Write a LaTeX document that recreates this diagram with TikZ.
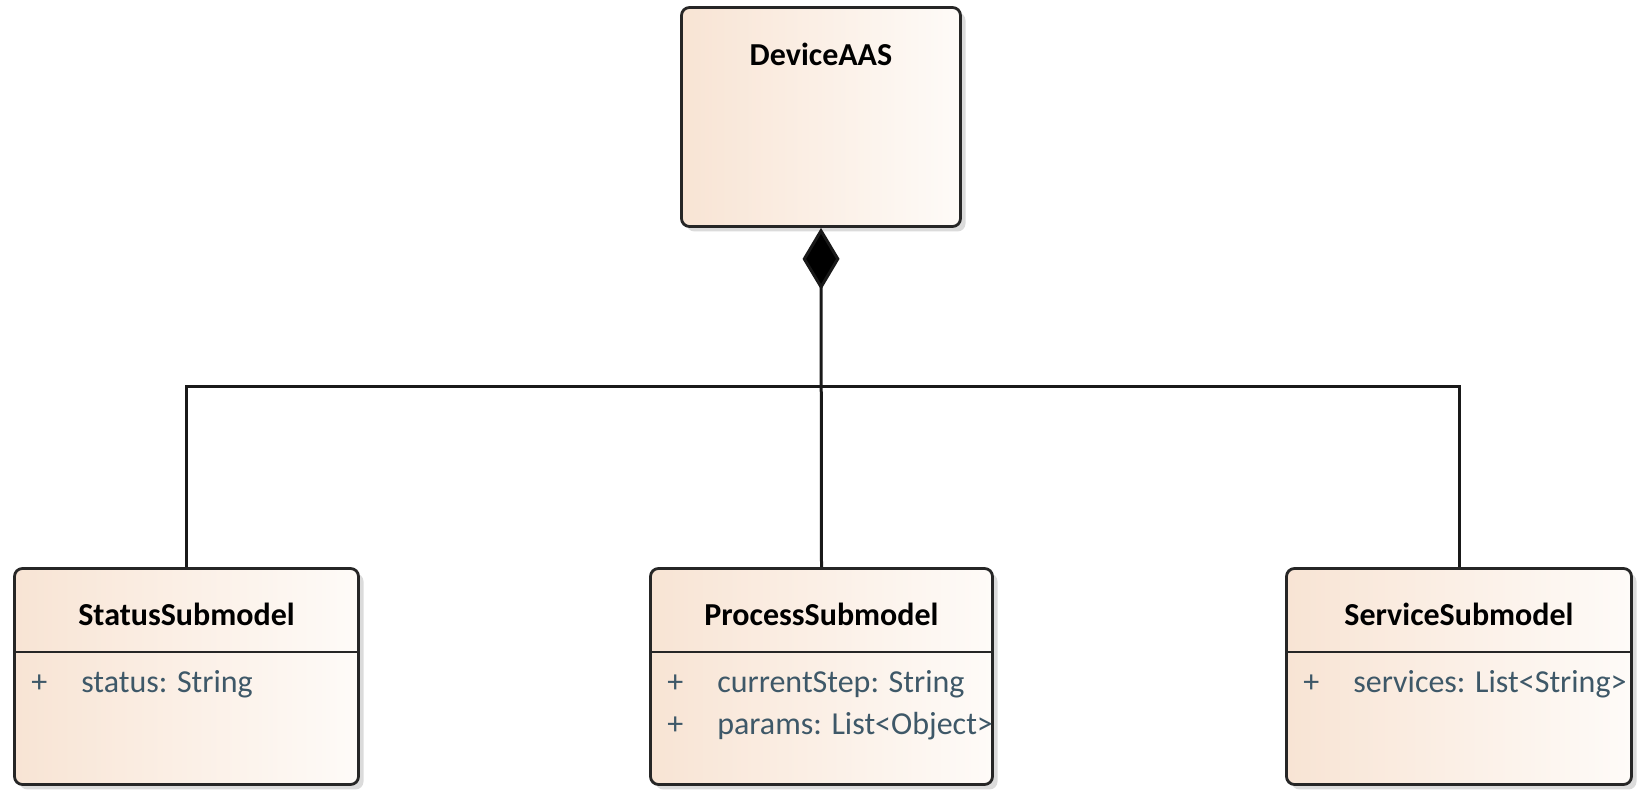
\documentclass[tikz,border=0pt]{standalone}
\usepackage{fontspec}
\setmainfont{Carlito}
\usetikzlibrary{arrows.meta,shadows,positioning}
\definecolor{boxleft}{RGB}{248,228,212}
\definecolor{boxright}{RGB}{254,251,248}
\definecolor{attrtext}{RGB}{62,88,104}
\tikzset{class_box/.style={draw=black!85, line width=2.8pt, rounded corners=8pt,
		left color=boxleft, right color=boxright,
		drop shadow={shadow xshift=5pt, shadow yshift=-5pt, fill=black!14, opacity=1},
		minimum height=216pt, inner sep=0pt},
	class_title/.style={font=\bfseries\fontsize{32}{38}\selectfont, text=black},
	attr/.style={font=\fontsize{32}{38}\selectfont, text=attrtext, anchor=west, inner sep=0pt},
	link/.style={draw=black!90, line width=3pt}
}

\begin{document}
\begin{tikzpicture}[x=1pt, y=1pt]
			\useasboundingbox (0,0) rectangle (1642,790);
			% class boxes
			\node[class_box, minimum width=279pt, minimum height=219pt] (device) at (821,673) {};
			\node[class_box, minimum width=344pt] (status) at (186.5,113.5) {};
			\node[class_box, minimum width=342pt] (process) at (821.5,113.5) {};
			\node[class_box, minimum width=345pt] (service) at (1459,113.5) {};
			
			% titles
			\node[class_title] (device_t) at ([yshift=-48pt]device.north) {DeviceAAS};
			\node[class_title] (status_t) at ([yshift=-47pt]status.north) {StatusSubmodel};
			\node[class_title] (process_t) at ([yshift=-47pt]process.north) {ProcessSubmodel};
			\node[class_title] (service_t) at ([yshift=-47pt]service.north) {ServiceSubmodel};
			
			% compartment lines
			\draw[link, draw=black!85, line width=2.8pt] ([yshift=-85pt]status.north west) -- ([yshift=-85pt]status.north east);
			\draw[link, draw=black!85, line width=2.8pt] ([yshift=-85pt]process.north west) -- ([yshift=-85pt]process.north east);
			\draw[link, draw=black!85, line width=2.8pt] ([yshift=-85pt]service.north west) -- ([yshift=-85pt]service.north east);
			
			% attributes
			\node[attr] (status_p) at ([shift={(18pt,-117pt)}]status.north west) {+};
			\node[attr] (status_a) at ([shift={(68pt,-117pt)}]status.north west) {status: String};
			\node[attr] (process_p1) at ([shift={(18pt,-117pt)}]process.north west) {+};
			\node[attr] (process_a1) at ([shift={(68pt,-117pt)}]process.north west) {currentStep: String};
			\node[attr] (process_p2) at ([shift={(18pt,-159pt)}]process.north west) {+};
			\node[attr] (process_a2) at ([shift={(68pt,-159pt)}]process.north west) {params: List<Object>};
			\node[attr] (service_p) at ([shift={(18pt,-117pt)}]service.north west) {+};
			\node[attr] (service_a) at ([shift={(68pt,-117pt)}]service.north west) {services: List<String>};
			
			% draw lines
			\coordinate (bus) at (821.5,403);
			\draw[link] (status.north) |- (bus) -| (service.north);
			\draw[link, -{Diamond[length=62pt, width=37pt, fill=black]}] (process.north) -- (device.south);
		\end{tikzpicture}
\end{document}
